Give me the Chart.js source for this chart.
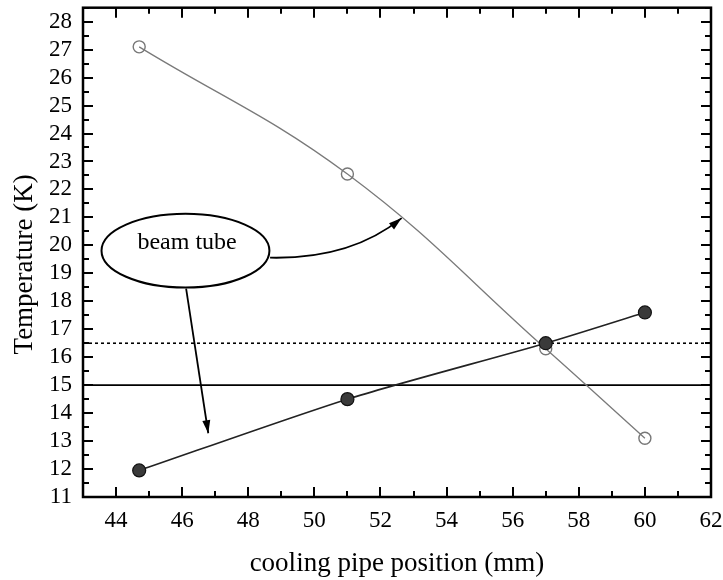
<!DOCTYPE html>
<html>
<head>
<meta charset="utf-8">
<script src="https://cdn.jsdelivr.net/npm/chart.js@4.4.1/dist/chart.umd.min.js"></script>
<style>
  html, body { margin: 0; padding: 0; background: #fff; }
  #wrap { width: 723px; height: 580px; }
</style>
</head>
<body>
<div id="wrap"><canvas id="c" width="723" height="580"></canvas></div>
<script>
// ---- data ----
const positions = [44.7, 51, 57, 60];
const openSeries = [27.1, 22.55, 16.3, 13.1];
const filledSeries = [11.95, 14.5, 16.5, 17.6];
const solidLimit = 15;
const dottedLimit = 16.5;
const xTickValues = [44, 46, 48, 50, 52, 54, 56, 58, 60, 62];
const yTickValues = [11, 12, 13, 14, 15, 16, 17, 18, 19, 20, 21, 22, 23, 24, 25, 26, 27, 28];
const xRange = [43, 62];
const yRange = [11, 28.5];
const xTitle = 'cooling pipe position (mm)';
const yTitle = 'Temperature (K)';
const calloutText = 'beam tube';

// annotation geometry in data units
const callout = {
  center: [46.10, 19.81], rx: 2.54, ry: 1.32, text: [46.15, 20.1],
  arrow1: { from: [48.66, 19.56], ctrl: [51.1, 19.5], to: [52.64, 20.975] },
  arrow2: { from: [46.12, 18.45], to: [46.79, 13.28] }
};

const serif = "'Liberation Serif', 'Times New Roman', serif";

function toXY(xs, ys) { return xs.map((x, i) => ({ x: x, y: ys[i] })); }

const decorPlugin = {
  id: 'decor',
  afterDatasetsDraw(chart) {
    const ctx = chart.ctx;
    const a = chart.chartArea;
    const xs = chart.scales.x, ys = chart.scales.y;
    const px = v => xs.getPixelForValue(v), py = v => ys.getPixelForValue(v);
    ctx.save();
    ctx.strokeStyle = '#000';
    // ticks
    ctx.lineWidth = 2;
    ctx.beginPath();
    for (let v = xRange[0]; v <= xRange[1] + 1e-9; v += 1) {
      const major = xTickValues.includes(v);
      const L = major ? 10 : 6;
      const X = Math.round(px(v));
      ctx.moveTo(X, a.bottom); ctx.lineTo(X, a.bottom - L);
      ctx.moveTo(X, a.top); ctx.lineTo(X, a.top + L);
    }
    for (let v = yRange[0]; v <= yRange[1] + 1e-9; v += 0.5) {
      const major = yTickValues.includes(v);
      const L = major ? 10 : 6;
      const Y = Math.round(py(v));
      ctx.moveTo(a.left, Y); ctx.lineTo(a.left + L, Y);
      ctx.moveTo(a.right, Y); ctx.lineTo(a.right - L, Y);
    }
    ctx.stroke();
    // frame
    ctx.lineWidth = 2.5;
    ctx.strokeRect(a.left, a.top, a.right - a.left, a.bottom - a.top);

    // callout ellipse
    const cx = px(callout.center[0]), cy = py(callout.center[1]);
    const rx = px(callout.center[0] + callout.rx) - cx;
    const ry = cy - py(callout.center[1] + callout.ry);
    ctx.lineWidth = 2;
    ctx.beginPath();
    ctx.ellipse(cx, cy, rx, ry, 0, 0, Math.PI * 2);
    ctx.stroke();
    ctx.fillStyle = '#000';
    ctx.font = "24px " + serif;
    ctx.textAlign = 'center';
    ctx.textBaseline = 'middle';
    ctx.fillText(calloutText, px(callout.text[0]), py(callout.text[1]));

    function arrowHead(x0, y0, x1, y1) {
      const ang = Math.atan2(y1 - y0, x1 - x0);
      const len = 13, w = 4;
      ctx.beginPath();
      ctx.moveTo(x1, y1);
      ctx.lineTo(x1 - len * Math.cos(ang) + w * Math.sin(ang), y1 - len * Math.sin(ang) - w * Math.cos(ang));
      ctx.lineTo(x1 - len * Math.cos(ang) - w * Math.sin(ang), y1 - len * Math.sin(ang) + w * Math.cos(ang));
      ctx.closePath();
      ctx.fill();
    }
    ctx.lineWidth = 1.8;
    const A = callout.arrow1;
    const f1 = [px(A.from[0]), py(A.from[1])], c1 = [px(A.ctrl[0]), py(A.ctrl[1])], t1 = [px(A.to[0]), py(A.to[1])];
    ctx.beginPath();
    ctx.moveTo(f1[0], f1[1]);
    ctx.quadraticCurveTo(c1[0], c1[1], t1[0], t1[1]);
    ctx.stroke();
    arrowHead(c1[0], c1[1], t1[0], t1[1]);
    const B = callout.arrow2;
    const f2 = [px(B.from[0]), py(B.from[1])], t2 = [px(B.to[0]), py(B.to[1])];
    ctx.beginPath();
    ctx.moveTo(f2[0], f2[1]);
    ctx.lineTo(t2[0], t2[1]);
    ctx.stroke();
    arrowHead(f2[0], f2[1], t2[0], t2[1]);

    // y axis title (centred slightly below the plot centre, as in the figure)
    ctx.save();
    ctx.font = "27px " + serif;
    ctx.textAlign = 'center';
    ctx.textBaseline = 'middle';
    ctx.translate(25, (a.top + a.bottom) / 2 + 12);
    ctx.rotate(-Math.PI / 2);
    ctx.fillText(yTitle, 0, 0);
    ctx.restore();
    ctx.restore();
  }
};

new Chart(document.getElementById('c'), {
  type: 'scatter',
  data: {
    datasets: [
      {
        label: 'filled',
        data: toXY(positions, filledSeries),
        showLine: true,
        borderColor: '#222',
        borderWidth: 1.6,
        tension: 0.25,
        pointRadius: 6.5,
        pointBackgroundColor: '#3a3a3a',
        pointBorderColor: '#111',
        pointBorderWidth: 1.2
      },
      {
        label: 'open',
        data: toXY(positions, openSeries),
        showLine: true,
        borderColor: '#7a7a7a',
        borderWidth: 1.3,
        tension: 0.4,
        pointRadius: 6,
        pointBackgroundColor: 'rgba(255,255,255,0)',
        pointBorderColor: '#777',
        pointBorderWidth: 1.4
      },
      {
        label: 'dotted',
        data: toXY(xRange, [dottedLimit, dottedLimit]),
        showLine: true,
        borderColor: '#000',
        borderWidth: 1.6,
        borderDash: [3, 3],
        pointRadius: 0
      },
      {
        label: 'solid',
        data: toXY(xRange, [solidLimit, solidLimit]),
        showLine: true,
        borderColor: '#000',
        borderWidth: 1.6,
        pointRadius: 0
      }
    ]
  },
  options: {
    responsive: false,
    animation: false,
    devicePixelRatio: 1,
    layout: { padding: { top: 7, right: 12, left: 0, bottom: 0 } },
    plugins: { legend: { display: false }, tooltip: { enabled: false } },
    scales: {
      x: {
        type: 'linear',
        min: xRange[0], max: xRange[1],
        grid: { display: false, drawTicks: false },
        border: { display: false },
        afterBuildTicks: s => { s.ticks = xTickValues.map(v => ({ value: v })); },
        afterFit: s => { s.height = 83; s.paddingLeft = 0; s.paddingRight = 0; },
        ticks: { color: '#000', padding: 10, font: { family: serif, size: 23 }, maxRotation: 0, autoSkip: false },
        title: { display: true, text: xTitle, color: '#000', font: { family: serif, size: 27 }, padding: { top: 0, bottom: 0 } }
      },
      y: {
        type: 'linear',
        min: yRange[0], max: yRange[1],
        grid: { display: false, drawTicks: false },
        border: { display: false },
        afterBuildTicks: s => { s.ticks = yTickValues.map(v => ({ value: v })); },
        afterFit: s => { s.width = 83; s.paddingTop = 0; s.paddingBottom = 0; },
        ticks: { color: '#000', padding: 11, font: { family: serif, size: 23 }, autoSkip: false },
        title: { display: false }
      }
    }
  },
  plugins: [decorPlugin]
});
</script>
</body>
</html>
